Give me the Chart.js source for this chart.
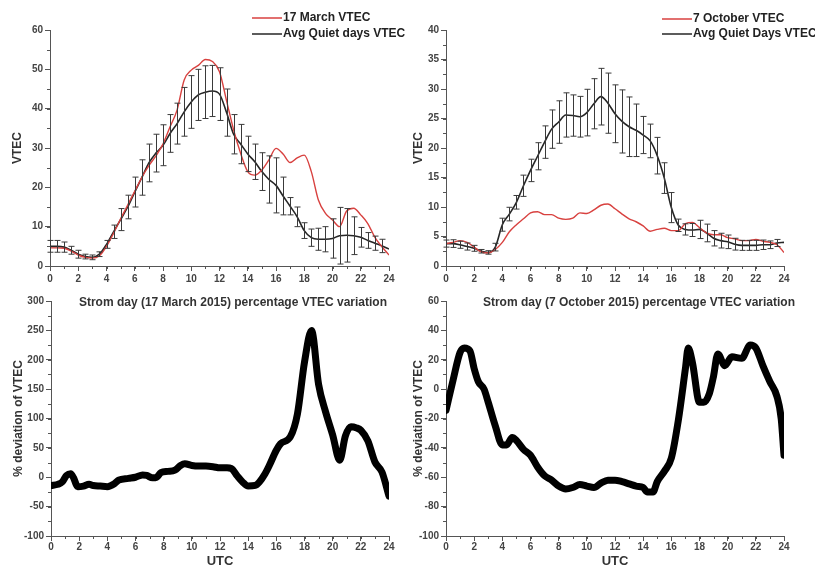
<!DOCTYPE html>
<html>
<head>
<meta charset="utf-8">
<script src="https://cdn.jsdelivr.net/npm/chart.js@4/dist/chart.umd.min.js"></script>
<style>
    html, body { margin: 0; padding: 0; background: #fff; }
    #wrap { position: relative; width: 815px; height: 569px; overflow: hidden; }
    .panel { position: absolute; }
</style>
</head>
<body>
<div id="wrap">
    <div class="panel" style="left:0;top:0;width:405px;height:285px"><canvas id="marchVtec"></canvas></div>
    <div class="panel" style="left:405px;top:0;width:410px;height:285px"><canvas id="octVtec"></canvas></div>
    <div class="panel" style="left:0;top:285px;width:405px;height:284px"><canvas id="marchDev"></canvas></div>
    <div class="panel" style="left:405px;top:285px;width:410px;height:284px"><canvas id="octDev"></canvas></div>
</div>
<script>
// hours (UTC) for the VTEC curves
const hours = [0, 0.5, 1, 1.5, 2, 2.5, 3, 3.5, 4, 4.5, 5, 5.5, 6, 6.5, 7, 7.5, 8, 8.5, 9, 9.5, 10, 10.5, 11, 11.5,
    12, 12.5, 13, 13.5, 14, 14.5, 15, 15.5, 16, 16.5, 17, 17.5, 18, 18.5, 19, 19.5, 20, 20.5, 21, 21.5, 22, 22.5, 23, 23.5, 24];

// 17 March 2015
const marchStorm = [4.6, 4.6, 4.5, 3.8, 2.8, 2.2, 2.0, 2.6, 5.0, 8.3, 12.0, 15.5, 19.0, 22.5, 25.5, 28.0, 31.0, 35.4, 39.7, 47.3,
    49.8, 51.0, 52.5, 52.0, 49.4, 42.0, 34.6, 28.6, 24.0, 23.1, 24.4, 27.0, 29.9, 28.5, 26.3, 27.5, 28.2, 24.0, 16.8, 13.4,
    11.7, 10.0, 14.0, 14.7, 13.0, 10.8, 7.3, 4.9, 2.8];
const marchQuiet = [5.0, 5.0, 4.8, 4.0, 3.0, 2.4, 2.2, 3.0, 5.5, 8.7, 11.8, 15.0, 18.8, 22.5, 26.2, 28.7, 30.7, 33.7, 36.2, 39.2,
    41.7, 43.5, 44.2, 44.5, 43.7, 39.0, 33.5, 31.0, 28.5, 26.5, 24.0, 22.0, 20.5, 17.8, 15.2, 12.5, 9.0, 7.2, 6.8, 6.8,
    7.0, 7.7, 7.8, 7.7, 7.3, 6.5, 5.8, 5.1, 4.3];
const marchQuietErr = [1.5, 1.5, 1.3, 1.0, 1.0, 0.6, 0.6, 0.6, 1.0, 1.7, 2.8, 3.0, 3.8, 4.5, 4.8, 4.8, 5.2, 4.8, 5.2, 6.2,
    6.7, 6.5, 6.7, 6.5, 6.7, 6.0, 5.0, 5.0, 4.5, 4.5, 4.8, 6.0, 7.0, 4.8, 2.2, 2.5, 2.0, 2.2, 2.8, 3.2,
    5.0, 7.2, 6.8, 4.8, 2.5, 2.0, 1.8, 1.7, null];

// 7 October 2015
const octStorm = [3.8, 4.0, 4.3, 4.0, 3.2, 2.4, 2.2, 2.8, 4.0, 5.8, 7.0, 8.0, 9.0, 9.2, 8.7, 8.7, 8.1, 7.9, 8.1, 9.0,
    8.9, 9.5, 10.3, 10.5, 9.7, 8.8, 8.0, 7.5, 6.8, 5.9, 6.2, 6.4, 6.0, 6.0, 7.2, 7.4, 6.5, 5.6, 5.3, 5.3,
    4.8, 4.6, 4.3, 4.3, 4.5, 4.2, 4.0, 3.6, 2.3];
const octQuiet = [3.8, 3.8, 3.6, 3.3, 3.0, 2.5, 2.3, 3.2, 7.0, 8.8, 10.8, 13.6, 16.2, 18.6, 21.0, 23.2, 24.4, 25.6, 25.5, 25.3,
    26.0, 27.5, 28.7, 27.6, 25.8, 24.5, 23.6, 23.0, 22.2, 21.2, 18.7, 14.9, 9.9, 6.9, 6.2, 6.1, 6.2, 5.6, 4.7, 4.3,
    4.1, 3.7, 3.5, 3.5, 3.5, 3.6, 3.6, 3.9, 4.0];
const octQuietErr = [0.6, 0.65, 0.6, 0.6, 0.5, 0.3, 0.3, 0.65, 1.1, 1.15, 1.15, 1.8, 1.9, 2.3, 2.75, 3.25, 3.6, 3.75, 3.5, 3.45,
    3.95, 4.25, 4.8, 5.1, 4.9, 5.35, 5.05, 4.45, 3.15, 2.85, 3.1, 2.6, 2.55, 1.05, 0.95, 1.1, 1.55, 1.5, 1.3, 1.25,
    1.15, 1.0, 0.85, 0.85, 0.85, 0.8, 0.65, 0.6, null];

// percentage deviation of VTEC
const marchDevHours = [0, 0.5, 0.8, 1.1, 1.4, 1.6, 1.9, 2.3, 2.7, 3, 3.5, 4, 4.5, 4.8, 5.5, 6, 6.5, 6.8, 7.2, 7.5, 7.8, 8.3, 8.8,
    9.2, 9.5, 10, 10.5, 11, 11.5, 12, 12.5, 12.8, 13.2, 13.6, 14, 14.5, 14.8, 15.2, 15.5, 16, 16.3, 17, 17.5, 18, 18.5,
    19, 19.5, 20, 20.5, 20.9, 21.3, 21.7, 22, 22.5, 23, 23.5, 24];
const marchDevValues = [-14, -12, -8, 3, 6, -1, -16, -15, -12, -14, -15, -16, -11, -5, -2, 0, 4, 3, -1, 0, 8, 10, 12,
    20, 23, 20, 19, 19, 18, 16, 16, 15, 3, -8, -15, -14, -8, 6, 20, 46, 57, 69, 108, 196, 250,
    158, 111, 72, 29, 70, 86, 84, 80, 62, 26, 9, -32];

const octDevHours = [0, 0.5, 1, 1.3, 1.7, 2, 2.3, 2.7, 3, 3.5, 4, 4.3, 4.7, 5, 5.5, 6, 6.5, 7, 7.5, 8, 8.5, 9, 9.5, 10, 10.5,
    11, 11.5, 12, 12.5, 13, 13.5, 14, 14.3, 14.7, 15, 15.5, 16, 16.5, 17, 17.2, 17.5, 18, 18.3, 18.7, 19, 19.3, 19.8,
    20.3, 21, 21.6, 22, 22.5, 23, 23.5, 23.8, 24];
const octDevValues = [-14.5, 6, 25, 28, 26, 14, 5, 0, -9, -25, -38, -38, -33, -35, -41, -45, -53, -59, -62, -66, -68, -67, -65, -66, -67,
    -64, -62, -62, -63, -64.5, -66, -67, -70, -70, -63, -56, -47, -21, 14, 28, 18, -9, -9, -3, 9, 24, 16,
    22, 21, 30, 28, 16, 5, -5, -20, -45];

const RED = '#d8413f';
const DARK = '#262626';
const AXIS = '#555';
const FONT = "'Liberation Sans', Arial, sans-serif";

const toXY = (xs, ys) => xs.map((x, i) => ({ x: x, y: ys[i] }));

// error bars + minor ticks + legend + inner title
const extras = {
    id: 'extras',
    afterDatasetsDraw(chart) {
        const ctx = chart.ctx;
        const xs = chart.scales.x, ys = chart.scales.y;
        chart.data.datasets.forEach(ds => {
            if (!ds.errors) return;
            ctx.save();
            ctx.strokeStyle = '#3a3a3a';
            ctx.lineWidth = 1;
            ds.data.forEach((p, i) => {
                const e = ds.errors[i];
                if (e == null) return;
                const px = Math.round(xs.getPixelForValue(p.x)) + 0.5;
                const top = ys.getPixelForValue(p.y + e);
                const bot = ys.getPixelForValue(p.y - e);
                ctx.beginPath();
                ctx.moveTo(px, top); ctx.lineTo(px, bot);
                ctx.moveTo(px - 3, top); ctx.lineTo(px + 3, top);
                ctx.moveTo(px - 3, bot); ctx.lineTo(px + 3, bot);
                ctx.stroke();
            });
            ctx.restore();
        });
    },
    afterDraw(chart, args, opts) {
        const ctx = chart.ctx;
        const xs = chart.scales.x, ys = chart.scales.y;
        const area = chart.chartArea;
        ctx.save();
        ctx.strokeStyle = AXIS;
        ctx.lineWidth = 1;
        ctx.beginPath();
        for (let v = xs.min; v <= xs.max + 1e-9; v += opts.minorX) {
            const px = Math.round(xs.getPixelForValue(v)) + 0.5;
            ctx.moveTo(px, area.bottom); ctx.lineTo(px, area.bottom + 3);
        }
        for (let v = ys.min; v <= ys.max + 1e-9; v += opts.minorY) {
            const py = Math.round(ys.getPixelForValue(v)) + 0.5;
            ctx.moveTo(area.left, py); ctx.lineTo(area.left - 3, py);
        }
        ctx.stroke();

        ctx.font = 'bold 12px ' + FONT;
        ctx.textBaseline = 'middle';
        (opts.legend || []).forEach(item => {
            ctx.strokeStyle = item.color;
            ctx.lineWidth = 1.5;
            ctx.beginPath();
            ctx.moveTo(item.x, item.y); ctx.lineTo(item.x + 30, item.y);
            ctx.stroke();
            ctx.fillStyle = '#222';
            ctx.textAlign = 'left';
            ctx.fillText(item.text, item.x + 31, item.y);
        });

        if (opts.title) {
            ctx.font = 'bold 12px ' + FONT;
            ctx.fillStyle = '#333';
            ctx.textAlign = 'right';
            ctx.fillText(opts.title, area.right + opts.titleDx, area.top + 2);
        }
        ctx.restore();
    }
};

function makeChart(id, cfg) {
    const tickFont = { family: FONT, size: 10, weight: 'bold' };
    const titleFont = { family: FONT, size: 12, weight: 'bold' };
    return new Chart(document.getElementById(id), {
        type: 'line',
        data: { datasets: cfg.datasets },
        options: {
            responsive: true,
            maintainAspectRatio: false,
            animation: false,
            layout: { padding: { top: cfg.padTop, right: cfg.padRight, left: 0, bottom: 0 } },
            elements: { point: { radius: 0 } },
            plugins: {
                legend: { display: false },
                tooltip: { enabled: false },
                extras: cfg.extras
            },
            scales: {
                x: {
                    type: 'linear',
                    min: 0, max: 24,
                    afterFit: s => { s.height = cfg.xHeight; },
                    ticks: { stepSize: 2, color: '#444', font: tickFont, padding: cfg.xTickPad, maxRotation: 0 },
                    grid: { drawOnChartArea: false, tickLength: 5, color: AXIS },
                    border: { color: AXIS, width: 1 },
                    title: { display: !!cfg.xTitle, text: cfg.xTitle, color: '#333', font: { family: FONT, size: 13, weight: 'bold' }, padding: { top: 0, bottom: 0 } }
                },
                y: {
                    min: cfg.yMin, max: cfg.yMax,
                    afterFit: s => { s.width = cfg.yWidth; },
                    ticks: { stepSize: cfg.yStep, color: '#444', font: tickFont, padding: 2 },
                    grid: { drawOnChartArea: false, tickLength: 5, color: AXIS },
                    border: { color: AXIS, width: 1 },
                    title: { display: true, text: cfg.yTitle, color: '#333', font: titleFont, padding: { top: cfg.yTitlePad, bottom: 0 } }
                }
            }
        },
        plugins: [extras]
    });
}

// Top left: 17 March
makeChart('marchVtec', {
    padTop: 30, padRight: 16, yWidth: 50, xHeight: 19, xTickPad: 2,
    yMin: 0, yMax: 60, yStep: 10, yTitle: 'VTEC', yTitlePad: 10,
    datasets: [
        { data: toXY(hours, marchStorm), borderColor: RED, borderWidth: 1.4, cubicInterpolationMode: 'monotone' },
        { data: toXY(hours, marchQuiet), errors: marchQuietErr, borderColor: DARK, borderWidth: 1.6, cubicInterpolationMode: 'monotone' }
    ],
    extras: {
        minorX: 1, minorY: 5,
        legend: [
            { text: '17 March VTEC', color: RED, x: 252, y: 18 },
            { text: 'Avg Quiet days VTEC', color: DARK, x: 252, y: 34 }
        ]
    }
});

// Top right: 7 October
makeChart('octVtec', {
    padTop: 30, padRight: 31, yWidth: 41, xHeight: 19, xTickPad: 2,
    yMin: 0, yMax: 40, yStep: 5, yTitle: 'VTEC', yTitlePad: 6,
    datasets: [
        { data: toXY(hours, octStorm), borderColor: RED, borderWidth: 1.4, cubicInterpolationMode: 'monotone' },
        { data: toXY(hours, octQuiet), errors: octQuietErr, borderColor: DARK, borderWidth: 1.6, cubicInterpolationMode: 'monotone' }
    ],
    extras: {
        minorX: 1, minorY: 2.5,
        legend: [
            { text: '7 October VTEC', color: RED, x: 257, y: 19 },
            { text: 'Avg Quiet Days VTEC', color: DARK, x: 257, y: 34 }
        ]
    }
});

// Bottom left: % deviation 17 March
makeChart('marchDev', {
    padTop: 16, padRight: 16, yWidth: 51, xHeight: 33, xTickPad: 0,
    yMin: -100, yMax: 300, yStep: 50, yTitle: '% deviation of VTEC', yTitlePad: 11, xTitle: 'UTC',
    datasets: [
        { data: toXY(marchDevHours, marchDevValues), borderColor: '#000', borderWidth: 7, borderJoinStyle: 'round', borderCapStyle: 'round', cubicInterpolationMode: 'monotone' }
    ],
    extras: { minorX: 1, minorY: 25, title: 'Strom day (17 March 2015) percentage VTEC variation', titleDx: -2 }
});

// Bottom right: % deviation 7 October
makeChart('octDev', {
    padTop: 16, padRight: 31, yWidth: 41, xHeight: 33, xTickPad: 0,
    yMin: -100, yMax: 60, yStep: 20, yTitle: '% deviation of VTEC', yTitlePad: 6, xTitle: 'UTC',
    datasets: [
        { data: toXY(octDevHours, octDevValues), borderColor: '#000', borderWidth: 7, borderJoinStyle: 'round', borderCapStyle: 'round', cubicInterpolationMode: 'monotone' }
    ],
    extras: { minorX: 1, minorY: 10, title: 'Strom day (7 October 2015) percentage VTEC variation', titleDx: 11 }
});
</script>
</body>
</html>
